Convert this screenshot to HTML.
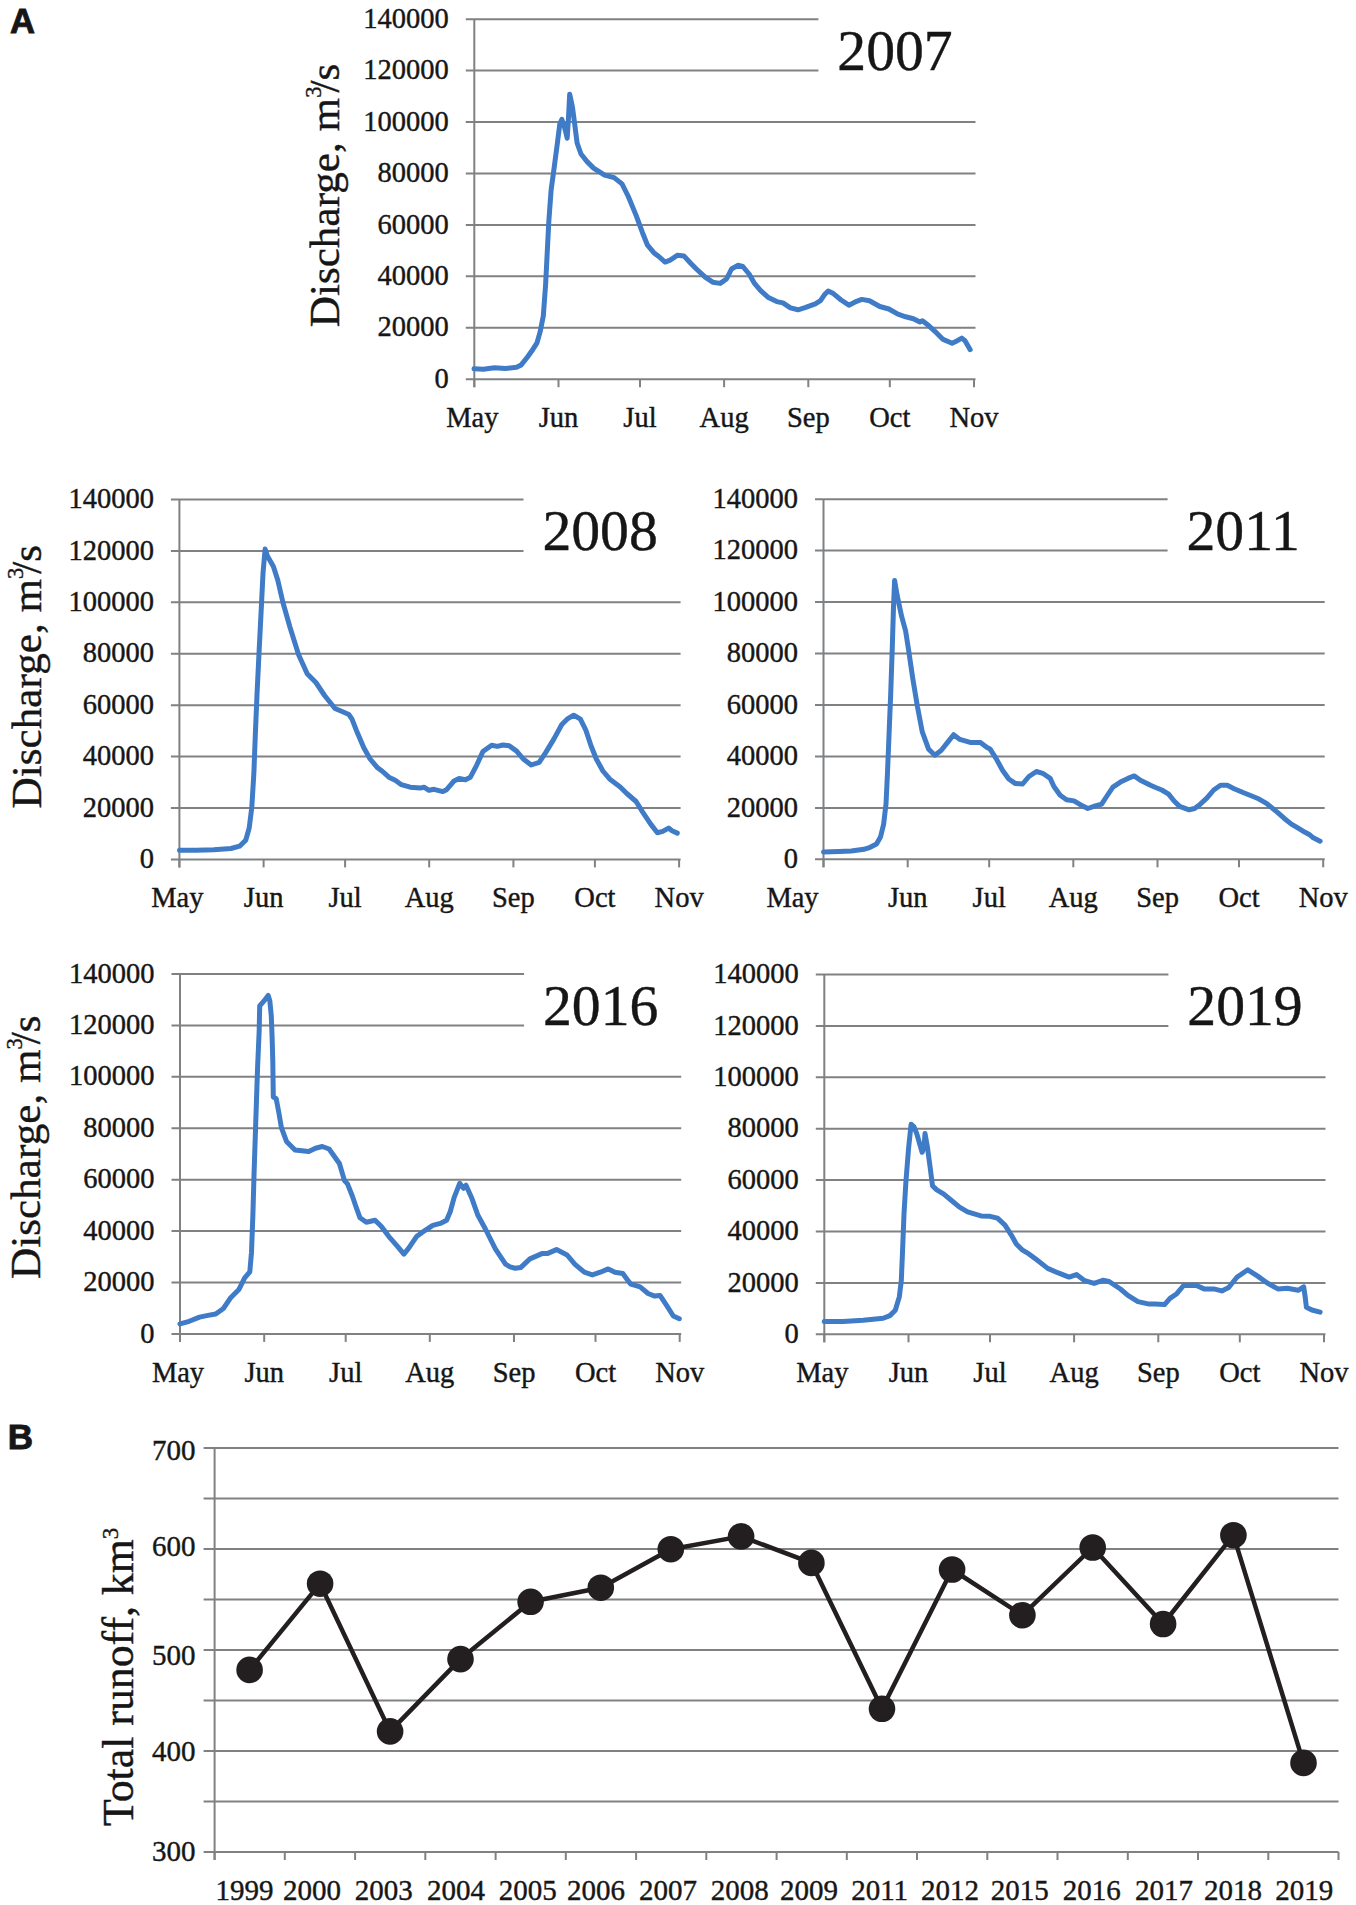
<!DOCTYPE html>
<html><head><meta charset="utf-8"><style>
html,body{margin:0;padding:0;background:#fff;width:1356px;height:1905px;overflow:hidden}
svg{display:block}
text{font-family:"Liberation Serif",serif;fill:#161616;stroke:#161616;stroke-width:0.4px}
</style></head><body>
<svg width="1356" height="1905" viewBox="0 0 1356 1905">
<line x1="465.8" y1="379.2" x2="975.5" y2="379.2" stroke="#7f8183" stroke-width="2"/>
<text x="448.8" y="387.8" text-anchor="end" font-size="28.5">0</text>
<line x1="465.8" y1="327.8" x2="975.5" y2="327.8" stroke="#7f8183" stroke-width="2"/>
<text x="448.8" y="336.4" text-anchor="end" font-size="28.5">20000</text>
<line x1="465.8" y1="276.3" x2="975.5" y2="276.3" stroke="#7f8183" stroke-width="2"/>
<text x="448.8" y="284.9" text-anchor="end" font-size="28.5">40000</text>
<line x1="465.8" y1="224.9" x2="975.5" y2="224.9" stroke="#7f8183" stroke-width="2"/>
<text x="448.8" y="233.5" text-anchor="end" font-size="28.5">60000</text>
<line x1="465.8" y1="173.5" x2="975.5" y2="173.5" stroke="#7f8183" stroke-width="2"/>
<text x="448.8" y="182.1" text-anchor="end" font-size="28.5">80000</text>
<line x1="465.8" y1="122.1" x2="975.5" y2="122.1" stroke="#7f8183" stroke-width="2"/>
<text x="448.8" y="130.7" text-anchor="end" font-size="28.5">100000</text>
<line x1="465.8" y1="70.6" x2="818.4" y2="70.6" stroke="#7f8183" stroke-width="2"/>
<text x="448.8" y="79.2" text-anchor="end" font-size="28.5">120000</text>
<line x1="465.8" y1="19.2" x2="818.4" y2="19.2" stroke="#7f8183" stroke-width="2"/>
<text x="448.8" y="27.8" text-anchor="end" font-size="28.5">140000</text>
<line x1="474.3" y1="19.2" x2="474.3" y2="387.2" stroke="#7f8183" stroke-width="2"/>
<line x1="474.3" y1="379.2" x2="474.3" y2="387.2" stroke="#7f8183" stroke-width="2"/>
<text x="472.3" y="427.2" text-anchor="middle" font-size="28.5">May</text>
<line x1="558.5" y1="379.2" x2="558.5" y2="387.2" stroke="#7f8183" stroke-width="2"/>
<text x="558.5" y="427.2" text-anchor="middle" font-size="28.5">Jun</text>
<line x1="640.0" y1="379.2" x2="640.0" y2="387.2" stroke="#7f8183" stroke-width="2"/>
<text x="640.0" y="427.2" text-anchor="middle" font-size="28.5">Jul</text>
<line x1="724.1" y1="379.2" x2="724.1" y2="387.2" stroke="#7f8183" stroke-width="2"/>
<text x="724.1" y="427.2" text-anchor="middle" font-size="28.5">Aug</text>
<line x1="808.3" y1="379.2" x2="808.3" y2="387.2" stroke="#7f8183" stroke-width="2"/>
<text x="808.3" y="427.2" text-anchor="middle" font-size="28.5">Sep</text>
<line x1="889.8" y1="379.2" x2="889.8" y2="387.2" stroke="#7f8183" stroke-width="2"/>
<text x="889.8" y="427.2" text-anchor="middle" font-size="28.5">Oct</text>
<line x1="974.0" y1="379.2" x2="974.0" y2="387.2" stroke="#7f8183" stroke-width="2"/>
<text x="974.0" y="427.2" text-anchor="middle" font-size="28.5">Nov</text>
<text x="837.3" y="70.0" font-size="57.7">2007</text>
<text transform="translate(338.8,327.3) rotate(-90)" font-size="43.2">Discharge, m<tspan dy="-18" font-size="22.5">3</tspan><tspan dy="18" dx="-6">/s</tspan></text>
<path d="M474,368.8 L483.4,369.2 L494.5,367.7 L505.5,368.4 L516.5,367.3 L521.2,364.9 L527.5,357 L533,349.2 L537,342.9 L540.1,331.9 L543.3,316.1 L545.6,284.6 L547.2,253.1 L548.8,221.7 L551.1,190.2 L554.3,166.6 L557.4,143 L559.8,124.1 L561.8,119.4 L564.5,127.2 L567.2,138.2 L568.4,119.4 L569.7,94.2 L572.4,106.8 L574.7,124.1 L577.1,143 L581,154 L587.3,161.9 L593.6,168.1 L604.6,175.2 L614.1,177.6 L622,183.9 L628.3,196.5 L636.1,215.4 L642.5,232.7 L647.5,245.2 L653.8,252.7 L658.8,256.5 L665.1,262.1 L670.1,260.2 L677.6,255.2 L683.9,255.9 L690.2,262.7 L696.4,269 L705.2,277.2 L712.7,282.2 L720.2,283.4 L726.5,279 L731.5,269 L737.8,265.3 L742.8,266.5 L749.1,274 L754.1,282.8 L760.4,290.3 L767.9,297.2 L776.7,301.6 L782.9,302.9 L790.4,307.9 L798,309.8 L805,307.7 L815.3,303.9 L820.5,300.7 L824.4,294.8 L828.2,291 L833.4,293.6 L841.1,300 L848.9,305.2 L856.6,301.3 L861.8,299.4 L869.5,300.7 L879.8,306.5 L888.9,309 L897.9,314.2 L905.7,316.8 L913.4,318.7 L919.9,321.9 L922.4,320.7 L928.9,325.8 L936.6,332.9 L943.1,339.4 L952.1,343.2 L957.3,340.7 L961.8,338.1 L965,340.7 L970.2,349.7" fill="none" stroke="#3f7bc6" stroke-width="5" stroke-linejoin="round" stroke-linecap="round"/>
<line x1="170.9" y1="859.4" x2="680.6" y2="859.4" stroke="#7f8183" stroke-width="2"/>
<text x="153.9" y="868.0" text-anchor="end" font-size="28.5">0</text>
<line x1="170.9" y1="808.0" x2="680.6" y2="808.0" stroke="#7f8183" stroke-width="2"/>
<text x="153.9" y="816.6" text-anchor="end" font-size="28.5">20000</text>
<line x1="170.9" y1="756.6" x2="680.6" y2="756.6" stroke="#7f8183" stroke-width="2"/>
<text x="153.9" y="765.2" text-anchor="end" font-size="28.5">40000</text>
<line x1="170.9" y1="705.2" x2="680.6" y2="705.2" stroke="#7f8183" stroke-width="2"/>
<text x="153.9" y="713.8" text-anchor="end" font-size="28.5">60000</text>
<line x1="170.9" y1="653.7" x2="680.6" y2="653.7" stroke="#7f8183" stroke-width="2"/>
<text x="153.9" y="662.3" text-anchor="end" font-size="28.5">80000</text>
<line x1="170.9" y1="602.3" x2="680.6" y2="602.3" stroke="#7f8183" stroke-width="2"/>
<text x="153.9" y="610.9" text-anchor="end" font-size="28.5">100000</text>
<line x1="170.9" y1="550.9" x2="523.5" y2="550.9" stroke="#7f8183" stroke-width="2"/>
<text x="153.9" y="559.5" text-anchor="end" font-size="28.5">120000</text>
<line x1="170.9" y1="499.5" x2="523.5" y2="499.5" stroke="#7f8183" stroke-width="2"/>
<text x="153.9" y="508.1" text-anchor="end" font-size="28.5">140000</text>
<line x1="179.4" y1="499.5" x2="179.4" y2="867.4" stroke="#7f8183" stroke-width="2"/>
<line x1="179.4" y1="859.4" x2="179.4" y2="867.4" stroke="#7f8183" stroke-width="2"/>
<text x="177.4" y="907.4" text-anchor="middle" font-size="28.5">May</text>
<line x1="263.6" y1="859.4" x2="263.6" y2="867.4" stroke="#7f8183" stroke-width="2"/>
<text x="263.6" y="907.4" text-anchor="middle" font-size="28.5">Jun</text>
<line x1="345.1" y1="859.4" x2="345.1" y2="867.4" stroke="#7f8183" stroke-width="2"/>
<text x="345.1" y="907.4" text-anchor="middle" font-size="28.5">Jul</text>
<line x1="429.2" y1="859.4" x2="429.2" y2="867.4" stroke="#7f8183" stroke-width="2"/>
<text x="429.2" y="907.4" text-anchor="middle" font-size="28.5">Aug</text>
<line x1="513.4" y1="859.4" x2="513.4" y2="867.4" stroke="#7f8183" stroke-width="2"/>
<text x="513.4" y="907.4" text-anchor="middle" font-size="28.5">Sep</text>
<line x1="594.9" y1="859.4" x2="594.9" y2="867.4" stroke="#7f8183" stroke-width="2"/>
<text x="594.9" y="907.4" text-anchor="middle" font-size="28.5">Oct</text>
<line x1="679.1" y1="859.4" x2="679.1" y2="867.4" stroke="#7f8183" stroke-width="2"/>
<text x="679.1" y="907.4" text-anchor="middle" font-size="28.5">Nov</text>
<text x="542.4" y="550.3" font-size="57.7">2008</text>
<text transform="translate(41.2,808.4) rotate(-90)" font-size="43.2">Discharge, m<tspan dy="-18" font-size="22.5">3</tspan><tspan dy="18" dx="-6">/s</tspan></text>
<path d="M179.5,850.2 L196.3,850.2 L213.7,849.7 L231,848.5 L239.6,846.2 L245.7,840.2 L249.2,828 L251.8,807.3 L253.9,772.6 L255.2,737.9 L257,694.6 L259.1,651.3 L261.3,608 L263,573.3 L265.1,549.1 L267.4,556 L273.4,566.4 L277.8,580.3 L283,602.8 L289.9,627 L298.6,654.8 L307.2,673.8 L315.9,682.5 L324.6,695.5 L335,708.5 L345,712.8 L348.8,714.5 L351.9,718.9 L356.3,730.2 L363.8,747.7 L370.1,759 L377.6,767.8 L382.6,771.5 L388.9,777.2 L395.2,780.3 L401.4,784.7 L410.2,787.2 L420.2,788.1 L424,787.2 L429,790.3 L434,789.3 L442.8,791.6 L446.6,789.7 L454.1,780.9 L459.1,778.4 L465.4,779.7 L470.4,777.2 L476.6,765.3 L482.9,751.5 L491.7,745.2 L497.3,746.4 L503,745 L509.2,745.8 L516.6,751.1 L523.3,759 L531.2,765 L539.2,762.3 L545.8,752.4 L553.8,739.1 L561.8,724.5 L567.1,719.2 L573.7,715.2 L580.4,719.2 L585.7,729.8 L591,745.8 L596.3,759 L602.9,771 L609.6,778.9 L620.2,786.9 L626.8,793.5 L636.1,801.5 L642.7,812.1 L650.7,824.1 L657.4,832.7 L662.7,831.4 L668.6,828.1 L672,830.7 L677.3,833.1" fill="none" stroke="#3f7bc6" stroke-width="5" stroke-linejoin="round" stroke-linecap="round"/>
<line x1="815.0" y1="859.3" x2="1324.7" y2="859.3" stroke="#7f8183" stroke-width="2"/>
<text x="798.0" y="867.9" text-anchor="end" font-size="28.5">0</text>
<line x1="815.0" y1="807.9" x2="1324.7" y2="807.9" stroke="#7f8183" stroke-width="2"/>
<text x="798.0" y="816.5" text-anchor="end" font-size="28.5">20000</text>
<line x1="815.0" y1="756.4" x2="1324.7" y2="756.4" stroke="#7f8183" stroke-width="2"/>
<text x="798.0" y="765.0" text-anchor="end" font-size="28.5">40000</text>
<line x1="815.0" y1="705.0" x2="1324.7" y2="705.0" stroke="#7f8183" stroke-width="2"/>
<text x="798.0" y="713.6" text-anchor="end" font-size="28.5">60000</text>
<line x1="815.0" y1="653.5" x2="1324.7" y2="653.5" stroke="#7f8183" stroke-width="2"/>
<text x="798.0" y="662.1" text-anchor="end" font-size="28.5">80000</text>
<line x1="815.0" y1="602.1" x2="1324.7" y2="602.1" stroke="#7f8183" stroke-width="2"/>
<text x="798.0" y="610.7" text-anchor="end" font-size="28.5">100000</text>
<line x1="815.0" y1="550.6" x2="1167.6" y2="550.6" stroke="#7f8183" stroke-width="2"/>
<text x="798.0" y="559.2" text-anchor="end" font-size="28.5">120000</text>
<line x1="815.0" y1="499.2" x2="1167.6" y2="499.2" stroke="#7f8183" stroke-width="2"/>
<text x="798.0" y="507.8" text-anchor="end" font-size="28.5">140000</text>
<line x1="823.5" y1="499.2" x2="823.5" y2="867.3" stroke="#7f8183" stroke-width="2"/>
<line x1="823.5" y1="859.3" x2="823.5" y2="867.3" stroke="#7f8183" stroke-width="2"/>
<text x="792.5" y="907.3" text-anchor="middle" font-size="28.5">May</text>
<line x1="907.7" y1="859.3" x2="907.7" y2="867.3" stroke="#7f8183" stroke-width="2"/>
<text x="907.7" y="907.3" text-anchor="middle" font-size="28.5">Jun</text>
<line x1="989.2" y1="859.3" x2="989.2" y2="867.3" stroke="#7f8183" stroke-width="2"/>
<text x="989.2" y="907.3" text-anchor="middle" font-size="28.5">Jul</text>
<line x1="1073.3" y1="859.3" x2="1073.3" y2="867.3" stroke="#7f8183" stroke-width="2"/>
<text x="1073.3" y="907.3" text-anchor="middle" font-size="28.5">Aug</text>
<line x1="1157.5" y1="859.3" x2="1157.5" y2="867.3" stroke="#7f8183" stroke-width="2"/>
<text x="1157.5" y="907.3" text-anchor="middle" font-size="28.5">Sep</text>
<line x1="1239.0" y1="859.3" x2="1239.0" y2="867.3" stroke="#7f8183" stroke-width="2"/>
<text x="1239.0" y="907.3" text-anchor="middle" font-size="28.5">Oct</text>
<line x1="1323.2" y1="859.3" x2="1323.2" y2="867.3" stroke="#7f8183" stroke-width="2"/>
<text x="1323.2" y="907.3" text-anchor="middle" font-size="28.5">Nov</text>
<text x="1186.5" y="550.0" font-size="57.7">2011</text>
<path d="M823.5,852 L838.7,851.5 L851.3,850.9 L863.9,849.3 L870.2,847.3 L876.5,844.1 L880.5,837 L883.6,824.4 L886,804 L887.5,772.5 L889.1,733.1 L890.7,693.8 L892.3,646.6 L893.5,607.2 L894.6,580.5 L897,594.6 L899.3,605.6 L901.7,616.7 L905.6,630.8 L908.8,651.3 L912.7,678.1 L917.4,706.4 L922.2,731.6 L928.5,748.9 L934.8,755.2 L941.1,750.5 L947.4,742.6 L953.6,734.7 L959.9,739.4 L971,742.6 L980.4,742.6 L986.7,747.3 L990,748.9 L996.3,758.9 L1002.5,770.2 L1008.8,779 L1015.1,783.4 L1022.6,784 L1028.9,776.5 L1036.4,771.5 L1042.7,773.3 L1050.2,778.4 L1053.9,786.5 L1060.2,795.3 L1066.5,799.7 L1074,800.9 L1080.3,804.7 L1087.8,808.5 L1095.3,805.9 L1101.6,804.1 L1106.6,796.5 L1112.9,787.1 L1120.4,782.1 L1127.9,778.4 L1134.2,775.9 L1140.4,780.2 L1150.5,785.3 L1155,787.3 L1161.8,790 L1168.6,794.1 L1174.1,801 L1179.6,806.4 L1189.1,809.8 L1194.6,808.5 L1200,804.4 L1206.8,798.2 L1213.7,790 L1220.5,785.3 L1227.3,785.3 L1234.1,788.7 L1243.7,792.8 L1257.3,798.2 L1266.9,803.7 L1277.8,812.6 L1284.6,818.7 L1291.4,824.1 L1298.2,828.2 L1305.1,832.3 L1309.2,834.4 L1313.3,837.8 L1320.1,841.2" fill="none" stroke="#3f7bc6" stroke-width="5" stroke-linejoin="round" stroke-linecap="round"/>
<line x1="171.5" y1="1333.9" x2="681.2" y2="1333.9" stroke="#7f8183" stroke-width="2"/>
<text x="154.5" y="1342.5" text-anchor="end" font-size="28.5">0</text>
<line x1="171.5" y1="1282.5" x2="681.2" y2="1282.5" stroke="#7f8183" stroke-width="2"/>
<text x="154.5" y="1291.1" text-anchor="end" font-size="28.5">20000</text>
<line x1="171.5" y1="1231.1" x2="681.2" y2="1231.1" stroke="#7f8183" stroke-width="2"/>
<text x="154.5" y="1239.7" text-anchor="end" font-size="28.5">40000</text>
<line x1="171.5" y1="1179.7" x2="681.2" y2="1179.7" stroke="#7f8183" stroke-width="2"/>
<text x="154.5" y="1188.3" text-anchor="end" font-size="28.5">60000</text>
<line x1="171.5" y1="1128.2" x2="681.2" y2="1128.2" stroke="#7f8183" stroke-width="2"/>
<text x="154.5" y="1136.8" text-anchor="end" font-size="28.5">80000</text>
<line x1="171.5" y1="1076.8" x2="681.2" y2="1076.8" stroke="#7f8183" stroke-width="2"/>
<text x="154.5" y="1085.4" text-anchor="end" font-size="28.5">100000</text>
<line x1="171.5" y1="1025.4" x2="524.1" y2="1025.4" stroke="#7f8183" stroke-width="2"/>
<text x="154.5" y="1034.0" text-anchor="end" font-size="28.5">120000</text>
<line x1="171.5" y1="974.0" x2="524.1" y2="974.0" stroke="#7f8183" stroke-width="2"/>
<text x="154.5" y="982.6" text-anchor="end" font-size="28.5">140000</text>
<line x1="180.0" y1="974.0" x2="180.0" y2="1341.9" stroke="#7f8183" stroke-width="2"/>
<line x1="180.0" y1="1333.9" x2="180.0" y2="1341.9" stroke="#7f8183" stroke-width="2"/>
<text x="178.0" y="1381.9" text-anchor="middle" font-size="28.5">May</text>
<line x1="264.2" y1="1333.9" x2="264.2" y2="1341.9" stroke="#7f8183" stroke-width="2"/>
<text x="264.2" y="1381.9" text-anchor="middle" font-size="28.5">Jun</text>
<line x1="345.7" y1="1333.9" x2="345.7" y2="1341.9" stroke="#7f8183" stroke-width="2"/>
<text x="345.7" y="1381.9" text-anchor="middle" font-size="28.5">Jul</text>
<line x1="429.8" y1="1333.9" x2="429.8" y2="1341.9" stroke="#7f8183" stroke-width="2"/>
<text x="429.8" y="1381.9" text-anchor="middle" font-size="28.5">Aug</text>
<line x1="514.0" y1="1333.9" x2="514.0" y2="1341.9" stroke="#7f8183" stroke-width="2"/>
<text x="514.0" y="1381.9" text-anchor="middle" font-size="28.5">Sep</text>
<line x1="595.5" y1="1333.9" x2="595.5" y2="1341.9" stroke="#7f8183" stroke-width="2"/>
<text x="595.5" y="1381.9" text-anchor="middle" font-size="28.5">Oct</text>
<line x1="679.7" y1="1333.9" x2="679.7" y2="1341.9" stroke="#7f8183" stroke-width="2"/>
<text x="679.7" y="1381.9" text-anchor="middle" font-size="28.5">Nov</text>
<text x="543.0" y="1024.8" font-size="57.7">2016</text>
<text transform="translate(39.6,1278.9) rotate(-90)" font-size="43.2">Discharge, m<tspan dy="-18" font-size="22.5">3</tspan><tspan dy="18" dx="-6">/s</tspan></text>
<path d="M180,1323.9 L189.2,1321.3 L199.5,1317.1 L208,1315.4 L215.7,1314 L223.4,1308.5 L230.2,1298.3 L238.7,1289.8 L244.7,1277.8 L249.8,1271.9 L251.5,1252.2 L252.9,1214.7 L254.1,1172.1 L255.8,1120.9 L257.5,1069.7 L259.2,1030 L259.7,1005.8 L261,1004.3 L265.1,999.6 L268.2,995.5 L269.8,1000.7 L271.3,1016.1 L272.2,1040 L272.8,1061.2 L273.3,1097 L276.2,1098.7 L278.8,1112.4 L281.4,1127.7 L286.5,1141.4 L295,1149.9 L308.7,1151.6 L315.5,1148.2 L322.3,1146.5 L329.1,1149 L339.4,1163.5 L344.5,1180.6 L347.5,1183.9 L352.5,1196.5 L356.3,1207.7 L360,1217.8 L366.3,1222.2 L375.1,1220.3 L381.4,1226.5 L388.9,1236.6 L397.7,1246.6 L403.9,1254.1 L408.9,1247.9 L416.5,1236.6 L425.2,1230.3 L432.8,1225.3 L440.3,1223.4 L446.6,1220.3 L450.3,1211.5 L454.1,1197.7 L459.7,1183.3 L463.5,1188.3 L466,1185.2 L471.6,1197.7 L477.9,1215.3 L485.4,1229 L495.5,1249.1 L505.5,1264.2 L510,1266.9 L515.3,1268.2 L520.6,1267.6 L529.9,1258.9 L541.9,1253.6 L547.2,1253.6 L556.5,1249.6 L567.1,1255 L575,1264.3 L584.3,1272.2 L592.3,1274.9 L600.3,1272.2 L608.2,1268.9 L614.9,1272.2 L622.8,1273.5 L626.8,1278.9 L630.8,1284.2 L640.1,1286.8 L648.1,1293.5 L654.7,1296.1 L660,1295.4 L666.6,1305.4 L673.3,1316 L679.3,1318.7" fill="none" stroke="#3f7bc6" stroke-width="5" stroke-linejoin="round" stroke-linecap="round"/>
<line x1="815.8" y1="1334.3" x2="1325.5" y2="1334.3" stroke="#7f8183" stroke-width="2"/>
<text x="798.8" y="1342.9" text-anchor="end" font-size="28.5">0</text>
<line x1="815.8" y1="1282.9" x2="1325.5" y2="1282.9" stroke="#7f8183" stroke-width="2"/>
<text x="798.8" y="1291.5" text-anchor="end" font-size="28.5">20000</text>
<line x1="815.8" y1="1231.5" x2="1325.5" y2="1231.5" stroke="#7f8183" stroke-width="2"/>
<text x="798.8" y="1240.1" text-anchor="end" font-size="28.5">40000</text>
<line x1="815.8" y1="1180.1" x2="1325.5" y2="1180.1" stroke="#7f8183" stroke-width="2"/>
<text x="798.8" y="1188.7" text-anchor="end" font-size="28.5">60000</text>
<line x1="815.8" y1="1128.7" x2="1325.5" y2="1128.7" stroke="#7f8183" stroke-width="2"/>
<text x="798.8" y="1137.3" text-anchor="end" font-size="28.5">80000</text>
<line x1="815.8" y1="1077.3" x2="1325.5" y2="1077.3" stroke="#7f8183" stroke-width="2"/>
<text x="798.8" y="1085.9" text-anchor="end" font-size="28.5">100000</text>
<line x1="815.8" y1="1025.9" x2="1168.4" y2="1025.9" stroke="#7f8183" stroke-width="2"/>
<text x="798.8" y="1034.5" text-anchor="end" font-size="28.5">120000</text>
<line x1="815.8" y1="974.5" x2="1168.4" y2="974.5" stroke="#7f8183" stroke-width="2"/>
<text x="798.8" y="983.1" text-anchor="end" font-size="28.5">140000</text>
<line x1="824.3" y1="974.5" x2="824.3" y2="1342.3" stroke="#7f8183" stroke-width="2"/>
<line x1="824.3" y1="1334.3" x2="824.3" y2="1342.3" stroke="#7f8183" stroke-width="2"/>
<text x="822.3" y="1382.3" text-anchor="middle" font-size="28.5">May</text>
<line x1="908.5" y1="1334.3" x2="908.5" y2="1342.3" stroke="#7f8183" stroke-width="2"/>
<text x="908.5" y="1382.3" text-anchor="middle" font-size="28.5">Jun</text>
<line x1="990.0" y1="1334.3" x2="990.0" y2="1342.3" stroke="#7f8183" stroke-width="2"/>
<text x="990.0" y="1382.3" text-anchor="middle" font-size="28.5">Jul</text>
<line x1="1074.1" y1="1334.3" x2="1074.1" y2="1342.3" stroke="#7f8183" stroke-width="2"/>
<text x="1074.1" y="1382.3" text-anchor="middle" font-size="28.5">Aug</text>
<line x1="1158.3" y1="1334.3" x2="1158.3" y2="1342.3" stroke="#7f8183" stroke-width="2"/>
<text x="1158.3" y="1382.3" text-anchor="middle" font-size="28.5">Sep</text>
<line x1="1239.8" y1="1334.3" x2="1239.8" y2="1342.3" stroke="#7f8183" stroke-width="2"/>
<text x="1239.8" y="1382.3" text-anchor="middle" font-size="28.5">Oct</text>
<line x1="1324.0" y1="1334.3" x2="1324.0" y2="1342.3" stroke="#7f8183" stroke-width="2"/>
<text x="1324.0" y="1382.3" text-anchor="middle" font-size="28.5">Nov</text>
<text x="1187.3" y="1025.3" font-size="57.7">2019</text>
<path d="M824.3,1321.6 L843.1,1321.6 L863.2,1320.3 L883.2,1318.3 L889.9,1315.6 L895.3,1310.3 L899.3,1296.9 L901.3,1280.8 L902.7,1247.3 L904,1213.9 L906,1180.4 L908.7,1146.9 L911.1,1124.2 L914,1126.9 L916.7,1133.5 L922.1,1152.3 L924.1,1146.9 L925,1133.5 L927.4,1146.9 L930.1,1167 L932.5,1185.8 L936.8,1189.8 L943.5,1193.8 L951.5,1200.5 L959.5,1207.2 L967.6,1211.9 L981,1215.9 L990,1216.3 L997.5,1218.2 L1005,1225.1 L1011.3,1235.1 L1016.3,1243.9 L1022.6,1250.2 L1028.9,1253.9 L1036.4,1259.6 L1047.7,1268.4 L1057.7,1272.7 L1069,1277.1 L1076.5,1274.6 L1084,1280.3 L1094.1,1283.4 L1102.8,1280.3 L1109.1,1281.5 L1120.4,1289 L1127.9,1295.3 L1137.9,1301.6 L1149.2,1304.1 L1155,1303.9 L1164.5,1304.6 L1170,1298.4 L1176.8,1293.7 L1183.6,1285.5 L1195.9,1285.2 L1204.1,1288.9 L1213.7,1288.9 L1221.8,1290.9 L1228.7,1287.5 L1236.9,1277.3 L1247.8,1269.8 L1257.3,1275.9 L1266.9,1282.8 L1277.8,1288.9 L1287.3,1288.2 L1298.2,1290.3 L1303.7,1286.8 L1305.1,1296.4 L1306.4,1307.3 L1311.9,1310 L1320.1,1312.1" fill="none" stroke="#3f7bc6" stroke-width="5" stroke-linejoin="round" stroke-linecap="round"/>
<text x="10" y="33" style="font-family:'Liberation Sans';font-weight:bold;stroke-width:0.9px" font-size="34.6">A</text>
<text x="7.8" y="1448.7" style="font-family:'Liberation Sans';font-weight:bold;stroke-width:0.9px" font-size="35">B</text>
<line x1="203.6" y1="1852.0" x2="1338.5" y2="1852.0" stroke="#7f8183" stroke-width="2"/>
<text x="195.5" y="1861.1" text-anchor="end" font-size="29">300</text>
<line x1="203.6" y1="1801.5" x2="1338.5" y2="1801.5" stroke="#7f8183" stroke-width="2"/>
<line x1="203.6" y1="1751.0" x2="1338.5" y2="1751.0" stroke="#7f8183" stroke-width="2"/>
<text x="195.5" y="1760.7" text-anchor="end" font-size="29">400</text>
<line x1="203.6" y1="1700.5" x2="1338.5" y2="1700.5" stroke="#7f8183" stroke-width="2"/>
<line x1="203.6" y1="1650.0" x2="1338.5" y2="1650.0" stroke="#7f8183" stroke-width="2"/>
<text x="195.5" y="1665.2" text-anchor="end" font-size="29">500</text>
<line x1="203.6" y1="1599.5" x2="1338.5" y2="1599.5" stroke="#7f8183" stroke-width="2"/>
<line x1="203.6" y1="1549.0" x2="1338.5" y2="1549.0" stroke="#7f8183" stroke-width="2"/>
<text x="195.5" y="1556.4" text-anchor="end" font-size="29">600</text>
<line x1="203.6" y1="1498.5" x2="1338.5" y2="1498.5" stroke="#7f8183" stroke-width="2"/>
<line x1="203.6" y1="1448.0" x2="1338.5" y2="1448.0" stroke="#7f8183" stroke-width="2"/>
<text x="195.5" y="1460.3" text-anchor="end" font-size="29">700</text>
<line x1="214.6" y1="1448.0" x2="214.6" y2="1860.0" stroke="#7f8183" stroke-width="2"/>
<line x1="214.6" y1="1852.0" x2="214.6" y2="1860.0" stroke="#7f8183" stroke-width="2"/>
<line x1="284.8" y1="1852.0" x2="284.8" y2="1860.0" stroke="#7f8183" stroke-width="2"/>
<line x1="355.1" y1="1852.0" x2="355.1" y2="1860.0" stroke="#7f8183" stroke-width="2"/>
<line x1="425.3" y1="1852.0" x2="425.3" y2="1860.0" stroke="#7f8183" stroke-width="2"/>
<line x1="495.6" y1="1852.0" x2="495.6" y2="1860.0" stroke="#7f8183" stroke-width="2"/>
<line x1="565.8" y1="1852.0" x2="565.8" y2="1860.0" stroke="#7f8183" stroke-width="2"/>
<line x1="636.1" y1="1852.0" x2="636.1" y2="1860.0" stroke="#7f8183" stroke-width="2"/>
<line x1="706.3" y1="1852.0" x2="706.3" y2="1860.0" stroke="#7f8183" stroke-width="2"/>
<line x1="776.6" y1="1852.0" x2="776.6" y2="1860.0" stroke="#7f8183" stroke-width="2"/>
<line x1="846.8" y1="1852.0" x2="846.8" y2="1860.0" stroke="#7f8183" stroke-width="2"/>
<line x1="917.0" y1="1852.0" x2="917.0" y2="1860.0" stroke="#7f8183" stroke-width="2"/>
<line x1="987.3" y1="1852.0" x2="987.3" y2="1860.0" stroke="#7f8183" stroke-width="2"/>
<line x1="1057.5" y1="1852.0" x2="1057.5" y2="1860.0" stroke="#7f8183" stroke-width="2"/>
<line x1="1127.8" y1="1852.0" x2="1127.8" y2="1860.0" stroke="#7f8183" stroke-width="2"/>
<line x1="1198.0" y1="1852.0" x2="1198.0" y2="1860.0" stroke="#7f8183" stroke-width="2"/>
<line x1="1268.3" y1="1852.0" x2="1268.3" y2="1860.0" stroke="#7f8183" stroke-width="2"/>
<line x1="1338.5" y1="1852.0" x2="1338.5" y2="1860.0" stroke="#7f8183" stroke-width="2"/>
<text x="244.6" y="1899.8" text-anchor="middle" font-size="29">1999</text>
<text x="312.1" y="1899.8" text-anchor="middle" font-size="29">2000</text>
<text x="383.7" y="1899.8" text-anchor="middle" font-size="29">2003</text>
<text x="456.0" y="1899.8" text-anchor="middle" font-size="29">2004</text>
<text x="527.7" y="1899.8" text-anchor="middle" font-size="29">2005</text>
<text x="596.1" y="1899.8" text-anchor="middle" font-size="29">2006</text>
<text x="667.9" y="1899.8" text-anchor="middle" font-size="29">2007</text>
<text x="739.8" y="1899.8" text-anchor="middle" font-size="29">2008</text>
<text x="809.0" y="1899.8" text-anchor="middle" font-size="29">2009</text>
<text x="879.6" y="1899.8" text-anchor="middle" font-size="29">2011</text>
<text x="950.0" y="1899.8" text-anchor="middle" font-size="29">2012</text>
<text x="1019.8" y="1899.8" text-anchor="middle" font-size="29">2015</text>
<text x="1091.8" y="1899.8" text-anchor="middle" font-size="29">2016</text>
<text x="1163.9" y="1899.8" text-anchor="middle" font-size="29">2017</text>
<text x="1233.0" y="1899.8" text-anchor="middle" font-size="29">2018</text>
<text x="1304.3" y="1899.8" text-anchor="middle" font-size="29">2019</text>
<path d="M249.6,1669.9 L320.1,1583.7 L390.1,1731.4 L460.5,1659.1 L530.6,1601.8 L600.8,1587.7 L670.8,1549.2 L741.1,1536.4 L811.4,1562.9 L882.0,1708.8 L952.1,1569.5 L1022.4,1615.2 L1092.7,1547.5 L1163.1,1624.0 L1233.4,1535.2 L1303.5,1762.9" fill="none" stroke="#231f20" stroke-width="4.5" stroke-linejoin="round"/>
<circle cx="249.6" cy="1669.9" r="13.3" fill="#231f20"/>
<circle cx="320.1" cy="1583.7" r="13.3" fill="#231f20"/>
<circle cx="390.1" cy="1731.4" r="13.3" fill="#231f20"/>
<circle cx="460.5" cy="1659.1" r="13.3" fill="#231f20"/>
<circle cx="530.6" cy="1601.8" r="13.3" fill="#231f20"/>
<circle cx="600.8" cy="1587.7" r="13.3" fill="#231f20"/>
<circle cx="670.8" cy="1549.2" r="13.3" fill="#231f20"/>
<circle cx="741.1" cy="1536.4" r="13.3" fill="#231f20"/>
<circle cx="811.4" cy="1562.9" r="13.3" fill="#231f20"/>
<circle cx="882.0" cy="1708.8" r="13.3" fill="#231f20"/>
<circle cx="952.1" cy="1569.5" r="13.3" fill="#231f20"/>
<circle cx="1022.4" cy="1615.2" r="13.3" fill="#231f20"/>
<circle cx="1092.7" cy="1547.5" r="13.3" fill="#231f20"/>
<circle cx="1163.1" cy="1624.0" r="13.3" fill="#231f20"/>
<circle cx="1233.4" cy="1535.2" r="13.3" fill="#231f20"/>
<circle cx="1303.5" cy="1762.9" r="13.3" fill="#231f20"/>
<text transform="translate(132.9,1826) rotate(-90)" font-size="43.8">Total runoff, km<tspan dy="-15" font-size="23">3</tspan></text>
</svg></body></html>
